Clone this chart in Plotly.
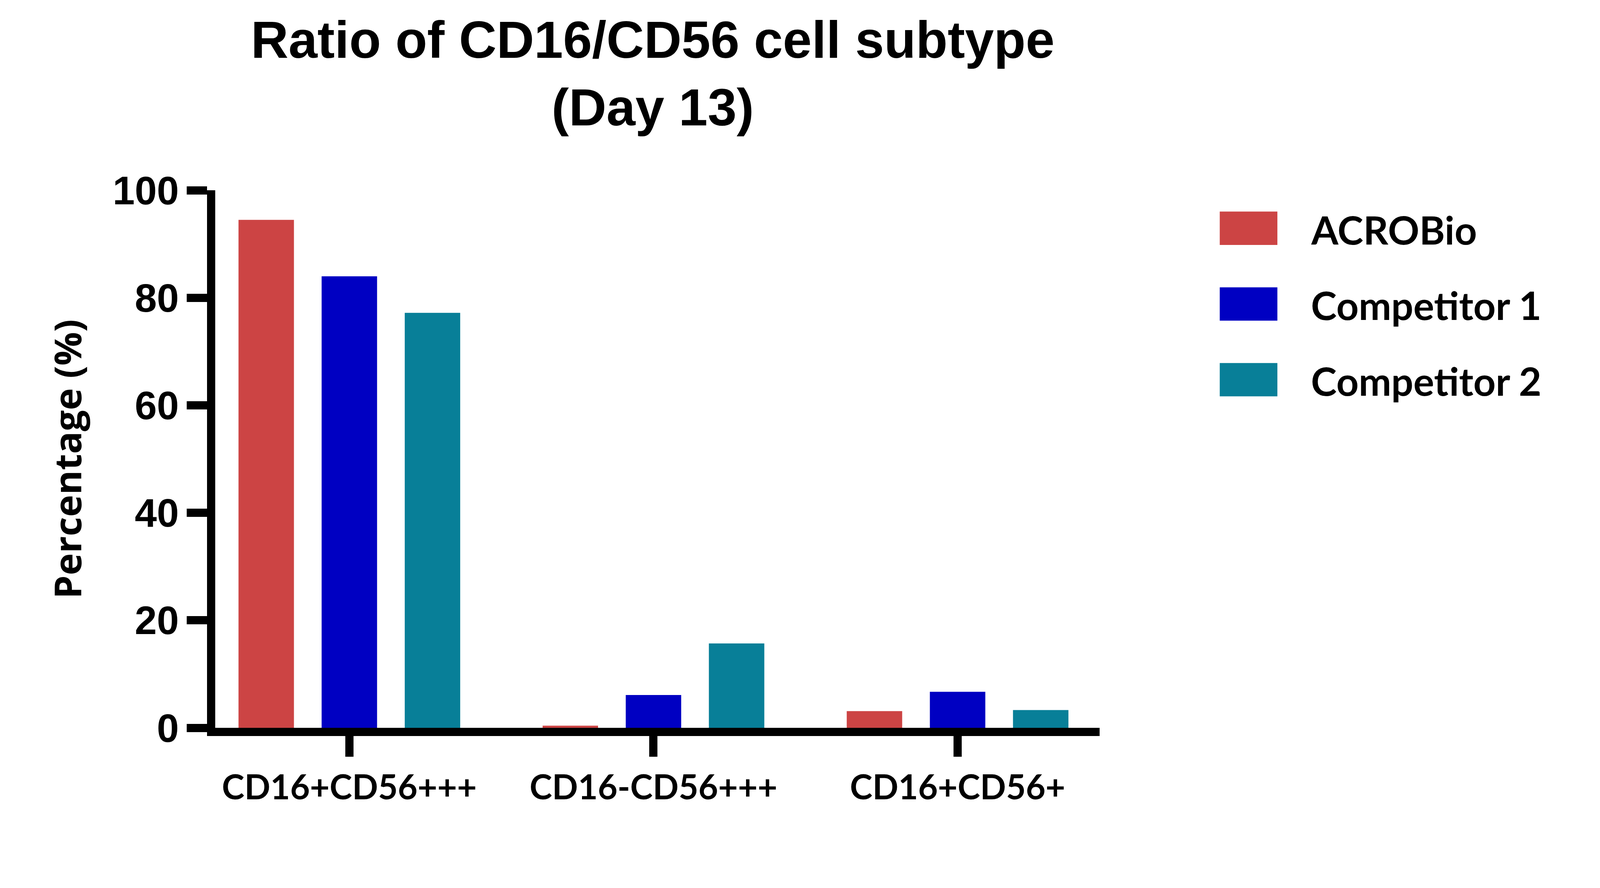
import plotly.graph_objects as go

# ---- data ----
categories = ["CD16+CD56+++", "CD16-CD56+++", "CD16+CD56+"]
series_names = ["ACROBio", "Competitor 1", "Competitor 2"]
acrobio = [94.5, 0.4, 3.1]
competitor1 = [84.0, 6.1, 6.7]
competitor2 = [77.2, 15.7, 3.3]
series_colors = ["#CC4444", "#0000C2", "#087F98"]
y_tickvals = [0, 20, 40, 60, 80, 100]
y_ticktext = ["0", "20", "40", "60", "80", "100"]

title_text = "Ratio of CD16/CD56 cell subtype<br>(Day 13)"
y_title = "Percentage (%)"

# ---- layout geometry (reference pixels -> page pixels) ----
K = 0.9583   # page-to-photo scale
OFF = 8      # page body margin


def c(p):
    return p * K - OFF


def s(v):
    return v * K


W = round(c(4272))
H = round(c(2273))
L, R, T, B = c(575), c(2938), c(508), c(1944)
margin = dict(l=L, r=W - R, t=T, b=H - B, pad=0, autoexpand=False)
plot_w = R - L
plot_h = B - T


def px_x(p):
    return (c(p) - L) / plot_w


def px_y(p):
    return (B - c(p)) / plot_h


fig = go.Figure()
for name, vals, col in zip(series_names, [acrobio, competitor1, competitor2], series_colors):
    fig.add_trace(go.Bar(x=categories, y=vals, name=name,
                         marker=dict(color=col, line=dict(width=0)), showlegend=False))

# legend drawn with large swatches as in the reference
sw_x0, sw_x1 = 3259, 3413
row_top0, row_step, sw_h = 565, 202.3, 89
text_x = 3501
for i, (name, col) in enumerate(zip(series_names, series_colors)):
    top = row_top0 + i * row_step
    fig.add_shape(type="rect", xref="paper", yref="paper",
                  x0=px_x(sw_x0), x1=px_x(sw_x1),
                  y0=px_y(top + sw_h), y1=px_y(top),
                  fillcolor=col, line=dict(width=0))
    fig.add_annotation(xref="paper", yref="paper", x=px_x(text_x),
                       y=px_y(top + sw_h / 2 + 3), xanchor="left", yanchor="middle",
                       text=name, showarrow=False,
                       font=dict(family="Lato", size=s(104), color="black", weight="bold"))

title_fs = s(139)
fig.update_layout(
    width=W, height=H,
    margin=margin,
    paper_bgcolor="white", plot_bgcolor="white",
    barmode="group", bargap=0.18, bargroupgap=0.333,
    showlegend=False,
    title=dict(text=title_text, x=px_x(1744), xref="paper", xanchor="center",
               y=1 - (c(161) - 0.05 * title_fs) / H, yref="container", yanchor="top",
               font=dict(family="Liberation Sans", size=title_fs, color="black", weight="bold")),
)

fig.update_xaxes(
    range=[-0.441, 2.467], showline=True, linewidth=s(22), linecolor="black",
    ticks="outside", ticklen=s(55), tickwidth=s(22), tickcolor="black",
    showgrid=False, zeroline=False, ticklabelstandoff=5,
    tickfont=dict(family="Lato", size=s(91), color="black", weight="bold"),
    automargin=False,
)
fig.update_yaxes(
    range=[0, 100], tickmode="array", tickvals=y_tickvals, ticktext=y_ticktext,
    showline=True, linewidth=s(22), linecolor="black",
    ticks="outside", ticklen=s(54), tickwidth=s(22), tickcolor="black",
    showgrid=False, zeroline=False,
    tickfont=dict(family="Liberation Sans", size=s(106), color="black", weight="bold"),
    title=dict(text=y_title, standoff=57,
               font=dict(family="Open Sans", size=s(100), color="black", weight="bold")),
    automargin=False,
)

fig.write_html("out.html")
